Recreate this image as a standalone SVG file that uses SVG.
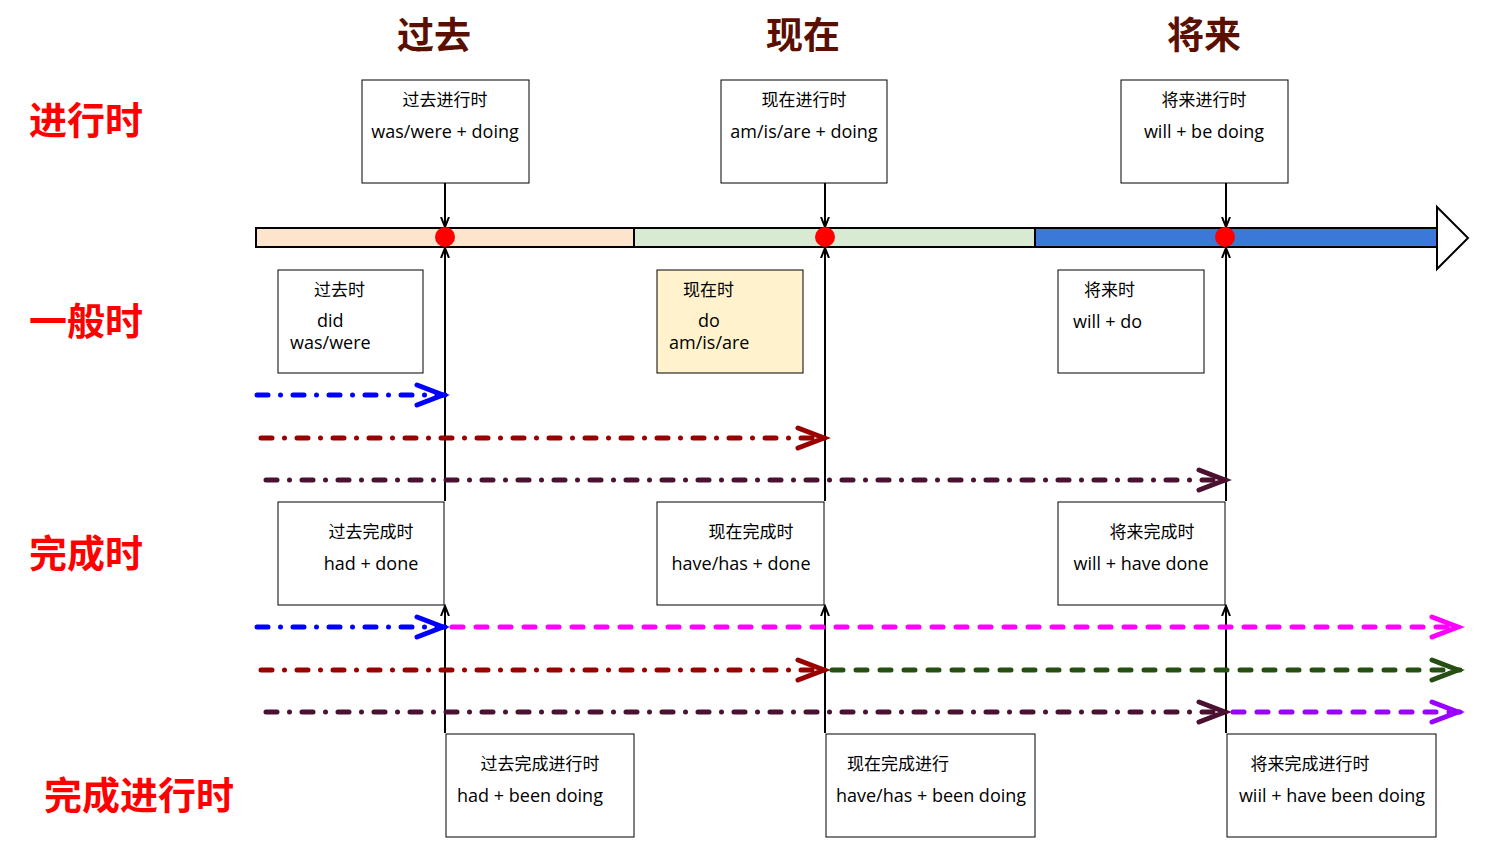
<svg xmlns="http://www.w3.org/2000/svg" width="1498" height="850" viewBox="0 0 1498 850">
<style>
.box{fill:#fff;stroke:#000;stroke-width:1}
.t{font-family:"Open Sans","Noto Sans CJK SC",sans-serif;font-size:18px;fill:#000}
.c{font-family:"Noto Sans CJK SC",sans-serif;font-size:17px;fill:#000}
.h{font-family:"Noto Sans CJK SC",sans-serif;font-size:37px;font-weight:bold;fill:#5B0F00;text-anchor:middle}
.l{font-family:"Noto Sans CJK SC",sans-serif;font-size:38px;font-weight:bold;fill:#FF0000}
.m{text-anchor:middle}
.v{stroke:#000;stroke-width:2;fill:none}
.dd{fill:none;stroke-width:5;stroke-linecap:round;stroke-dasharray:11 12.5 0 12.5}
.ds{fill:none;stroke-width:5;stroke-linecap:round;stroke-dasharray:11 13}
</style>
<defs>
<marker id="va" markerUnits="userSpaceOnUse" markerWidth="12" markerHeight="12" refX="10" refY="5" orient="auto"><path d="M0,1 L10,5 L0,9" fill="none" stroke="#000" stroke-width="2"/></marker>
<marker id="a1" markerUnits="userSpaceOnUse" markerWidth="40" markerHeight="30" refX="31" refY="13" orient="auto"><path d="M3,3 L29,13 L3,23" fill="none" stroke="#0000FF" stroke-width="5" stroke-linecap="round"/></marker>
<marker id="a2" markerUnits="userSpaceOnUse" markerWidth="40" markerHeight="30" refX="31" refY="13" orient="auto"><path d="M3,3 L29,13 L3,23" fill="none" stroke="#990000" stroke-width="5" stroke-linecap="round"/></marker>
<marker id="a3" markerUnits="userSpaceOnUse" markerWidth="40" markerHeight="30" refX="31" refY="13" orient="auto"><path d="M3,3 L29,13 L3,23" fill="none" stroke="#4A1130" stroke-width="5" stroke-linecap="round"/></marker>
<marker id="a4" markerUnits="userSpaceOnUse" markerWidth="40" markerHeight="30" refX="31" refY="13" orient="auto"><path d="M3,3 L29,13 L3,23" fill="none" stroke="#FF00FF" stroke-width="5" stroke-linecap="round"/></marker>
<marker id="a5" markerUnits="userSpaceOnUse" markerWidth="40" markerHeight="30" refX="31" refY="13" orient="auto"><path d="M3,3 L29,13 L3,23" fill="none" stroke="#274E13" stroke-width="5" stroke-linecap="round"/></marker>
<marker id="a6" markerUnits="userSpaceOnUse" markerWidth="40" markerHeight="30" refX="31" refY="13" orient="auto"><path d="M3,3 L29,13 L3,23" fill="none" stroke="#9900FF" stroke-width="5" stroke-linecap="round"/></marker>
</defs>
<rect width="1498" height="850" fill="#fff"/>
<g id="headings">
<text class="h" x="434" y="49">过去</text>
<text class="h" x="803" y="49">现在</text>
<text class="h" x="1204" y="49">将来</text>
<text class="l" x="29" y="134">进行时</text>
<text class="l" x="29" y="335">一般时</text>
<text class="l" x="29" y="567">完成时</text>
<text class="l" x="44" y="809">完成进行时</text>
</g>
<g id="timeline">
<rect x="256" y="228" width="378" height="19" fill="#FCE4CD" stroke="#000" stroke-width="2"/>
<rect x="634" y="228" width="401" height="19" fill="#D9EAD3" stroke="#000" stroke-width="2"/>
<rect x="1035" y="228" width="402" height="19" fill="#3C78D8" stroke="#000" stroke-width="2"/>
<path d="M1437,207 L1468,238 L1437,269 Z" fill="#fff" stroke="#000" stroke-width="2"/>
</g>
<g id="connectors">
<path class="v" d="M445,183 V227" marker-end="url(#va)"/>
<path class="v" d="M825,183 V227" marker-end="url(#va)"/>
<path class="v" d="M1226,183 V227" marker-end="url(#va)"/>
<path class="v" d="M445,501 V248" marker-end="url(#va)"/>
<path class="v" d="M825,501 V248" marker-end="url(#va)"/>
<path class="v" d="M1226,501 V248" marker-end="url(#va)"/>
<path class="v" d="M445,733 V606" marker-end="url(#va)"/>
<path class="v" d="M825,733 V606" marker-end="url(#va)"/>
<path class="v" d="M1226,733 V606" marker-end="url(#va)"/>
<path class="dd" stroke="#0000FF" d="M257,395 H445" marker-end="url(#a1)"/>
<path class="dd" stroke="#990000" d="M261,438 H826" marker-end="url(#a2)"/>
<path class="dd" stroke="#4A1130" d="M266,480 H1227" marker-end="url(#a3)"/>
<path class="dd" stroke="#0000FF" d="M257,627 H445" marker-end="url(#a1)"/>
<path class="dd" stroke="#990000" d="M261,670 H826" marker-end="url(#a2)"/>
<path class="dd" stroke="#4A1130" d="M266,712 H1227" marker-end="url(#a3)"/>
<path class="ds" stroke="#FF00FF" d="M452,627 H1460" marker-end="url(#a4)"/>
<path class="ds" stroke="#274E13" d="M832,670 H1460" marker-end="url(#a5)"/>
<path class="ds" stroke="#9900FF" d="M1233,712 H1460" marker-end="url(#a6)"/>
</g>
<g id="dots" fill="#FF0000">
<circle cx="445" cy="237" r="10"/><circle cx="825" cy="237" r="10"/><circle cx="1225" cy="237" r="10"/>
</g>
<g id="n1"><rect class="box" x="362" y="80" width="167" height="103"/><text class="c m" x="445" y="106">过去进行时</text><text class="t m" x="445" y="138">was/were + doing</text></g>
<g id="n2"><rect class="box" x="721" y="80" width="166" height="103"/><text class="c m" x="804" y="106">现在进行时</text><text class="t m" x="804" y="138">am/is/are + doing</text></g>
<g id="n3"><rect class="box" x="1121" y="80" width="167" height="103"/><text class="c m" x="1204" y="106">将来进行时</text><text class="t m" x="1204" y="138">will + be doing</text></g>
<g id="n4"><rect class="box" x="278" y="270" width="145" height="103"/><text class="c" x="314" y="296">过去时</text><text class="t" x="317" y="327">did</text><text class="t" x="290" y="349">was/were</text></g>
<g id="n5"><rect class="box" x="657" y="270" width="146" height="103" style="fill:#FFF2CC"/><text class="c" x="683" y="296">现在时</text><text class="t" x="698" y="327">do</text><text class="t" x="669" y="349">am/is/are</text></g>
<g id="n6"><rect class="box" x="1058" y="270" width="146" height="103"/><text class="c" x="1084" y="296">将来时</text><text class="t" x="1073" y="328">will + do</text></g>
<g id="n7"><rect class="box" x="278" y="502" width="166" height="103"/><text class="c m" x="371" y="538">过去完成时</text><text class="t m" x="371" y="570">had + done</text></g>
<g id="n8"><rect class="box" x="657" y="502" width="167" height="103"/><text class="c m" x="751" y="538">现在完成时</text><text class="t m" x="741" y="570">have/has + done</text></g>
<g id="n9"><rect class="box" x="1058" y="502" width="167" height="103"/><text class="c m" x="1152" y="538">将来完成时</text><text class="t m" x="1141" y="570">will + have done</text></g>
<g id="n10"><rect class="box" x="446" y="734" width="188" height="103"/><text class="c m" x="540" y="770">过去完成进行时</text><text class="t m" x="530" y="802">had + been doing</text></g>
<g id="n11"><rect class="box" x="826" y="734" width="209" height="103"/><text class="c" x="847" y="770">现在完成进行</text><text class="t m" x="931" y="802">have/has + been doing</text></g>
<g id="n12"><rect class="box" x="1227" y="734" width="209" height="103"/><text class="c m" x="1310" y="770">将来完成进行时</text><text class="t m" x="1332" y="802">wiil + have been doing</text></g>
</svg>
